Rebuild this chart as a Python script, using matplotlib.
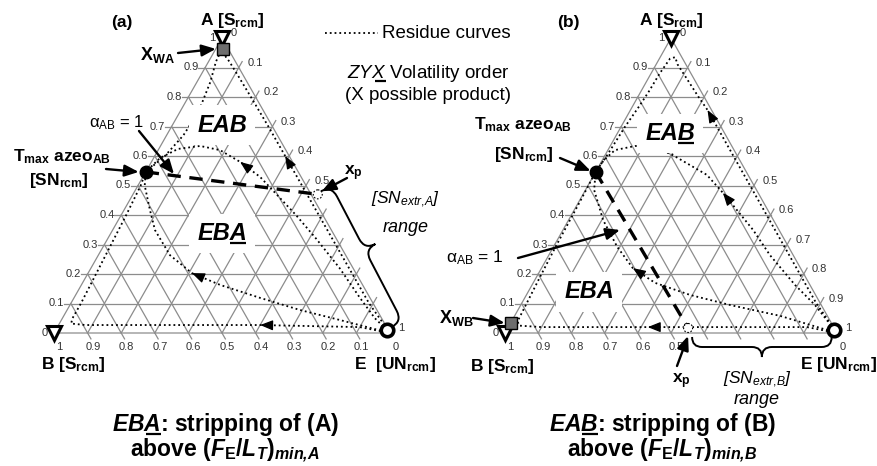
import numpy as np
import matplotlib.pyplot as plt
from matplotlib.path import Path
from matplotlib.patches import PathPatch, Circle

plt.rcParams['font.family'] = ['Liberation Sans', 'DejaVu Sans']
plt.rcParams['mathtext.fontset'] = 'custom'
plt.rcParams['mathtext.rm'] = 'Liberation Sans'
plt.rcParams['mathtext.it'] = 'Liberation Sans:italic'
plt.rcParams['mathtext.bf'] = 'Liberation Sans:bold'
plt.rcParams['mathtext.bfit'] = 'Liberation Sans:italic:bold'

# compositions are (x_A, x_E); x_B = 1 - x_A - x_E
tick_vals = [0.0, 0.1, 0.2, 0.3, 0.4, 0.5, 0.6, 0.7, 0.8, 0.9, 1.0]
tick_txt = ['0', '0.1', '0.2', '0.3', '0.4', '0.5', '0.6', '0.7', '0.8', '0.9', '1']

azeo_ab = (0.546, 0.0)
e_node = (0.01, 0.985)
xp_a = (0.47, 0.55)
xp_b = (0.017, 0.543)
xw_a = (0.963, 0.021)
xw_b = (0.034, 0.0)

# residue curves, from E (unstable node) to the azeotrope (stable node)
curve_a1 = [(0.0, 1.0), (0.1, 0.888), (0.2, 0.788), (0.3, 0.688), (0.4, 0.588), (0.5, 0.488),
            (0.6, 0.388), (0.7, 0.288), (0.8, 0.186), (0.87, 0.114), (0.92, 0.062), (0.945, 0.033),
            (0.945, 0.02), (0.92, 0.022), (0.85, 0.04), (0.75, 0.055), (0.67, 0.05), (0.6, 0.03),
            (0.546, 0.0)]
curve_a2 = [(0.0, 1.0), (0.05, 0.93), (0.12, 0.85), (0.22, 0.74), (0.32, 0.62), (0.4, 0.52),
            (0.468, 0.43), (0.529, 0.349), (0.58, 0.264), (0.62, 0.184), (0.634, 0.118),
            (0.624, 0.057), (0.593, 0.019), (0.546, 0.0)]
curve_a3 = [(0.0, 1.0), (0.02, 0.9), (0.027, 0.6), (0.027, 0.3), (0.027, 0.08), (0.032, 0.035),
            (0.05, 0.03), (0.1, 0.03), (0.2, 0.025), (0.3, 0.02), (0.4, 0.015), (0.5, 0.008),
            (0.546, 0.0)]
curve_a4 = [(0.0, 1.0), (0.044, 0.829), (0.078, 0.693), (0.119, 0.554), (0.163, 0.413),
            (0.203, 0.309), (0.264, 0.213), (0.349, 0.126), (0.417, 0.077), (0.5, 0.02),
            (0.546, 0.0)]

curve_b1 = [(0.0, 1.0), (0.1, 0.888), (0.2, 0.788), (0.3, 0.688), (0.4, 0.588), (0.5, 0.488),
            (0.6, 0.388), (0.7, 0.288), (0.756, 0.232), (0.8, 0.183), (0.87, 0.108), (0.91, 0.065),
            (0.935, 0.045), (0.93, 0.032), (0.88, 0.026), (0.82, 0.024), (0.77, 0.02),
            (0.7, 0.012), (0.6, 0.006), (0.546, 0.0)]
curve_b2 = [(0.0, 1.0), (0.095, 0.886), (0.163, 0.792), (0.264, 0.666), (0.349, 0.573),
            (0.475, 0.419), (0.536, 0.34), (0.603, 0.204), (0.63, 0.137), (0.634, 0.075),
            (0.62, 0.021), (0.586, 0.005), (0.546, 0.0)]
curve_b3 = [(0.0, 1.0), (0.058, 0.8), (0.095, 0.63), (0.129, 0.493), (0.17, 0.367),
            (0.22, 0.275), (0.292, 0.192), (0.383, 0.104), (0.485, 0.026), (0.546, 0.0)]
curve_b4 = [(0.0, 1.0), (0.02, 0.9), (0.02, 0.42), (0.02, 0.1), (0.025, 0.03), (0.04, 0.018),
            (0.1, 0.015), (0.2, 0.01), (0.3, 0.006), (0.45, 0.003), (0.546, 0.0)]

# arrow heads: (curve, index of the point the head sits on)
arrows_a = [(curve_a1, 6), (curve_a2, 8), (curve_a3, 2), (curve_a4, 5)]
arrows_b = [(curve_b1, 8), (curve_b2, 5), (curve_b3, 5), (curve_b4, 2)]

# triangle placement in the picture (pixels)
tri_a = {'B': (54, 333), 'E': (390, 333), 'A': (222, 38)}
tri_b = {'B': (505, 333), 'E': (837, 333), 'A': (671, 38)}

GRID = '#8c8c8c'
TICK = '#333333'


def tern(tri, xa, xe):
    xa = np.asarray(xa, float)
    xe = np.asarray(xe, float)
    xb = 1 - xa - xe
    x = xb * tri['B'][0] + xe * tri['E'][0] + xa * tri['A'][0]
    y = xb * tri['B'][1] + xe * tri['E'][1] + xa * tri['A'][1]
    return x, y


def seg(ax, tri, p, q, **kw):
    x, y = tern(tri, [p[0], q[0]], [p[1], q[1]])
    ax.plot(x, y, **kw)


def draw_grid(ax, tri, right_show, bottom_show):
    ext = 0.02
    kw = dict(color=GRID, lw=0.9, zorder=1)
    x, y = tern(tri, [0, 0, 1, 0], [0, 1, 0, 0])
    ax.plot(x, y, **kw)
    for v in tick_vals[1:-1]:
        seg(ax, tri, (v, -ext), (v, 1 - v), **kw)            # constant A
        seg(ax, tri, (0, v), (1 - v + ext, v), **kw)         # constant E
        seg(ax, tri, (1 - v, 0), (-ext, 1 - v + ext), **kw)  # constant B
    for v, s in zip(tick_vals, tick_txt):
        x, y = tern(tri, v, -0.02)
        ax.text(x, y, s, fontsize=8, color=TICK, ha='right', va='center')
        if s in right_show:
            x, y = tern(tri, 1 - v + 0.02, v)
            ax.text(x + 5, y + 1, s, fontsize=8, color=TICK, ha='left', va='center')
        if s in bottom_show:
            x, y = tern(tri, -0.02, 1 - v + 0.02)
            ax.text(x + 2, y + 8, s, fontsize=8, color=TICK, ha='center', va='center')


def draw_curves(ax, tri, curves, arrows):
    for c in curves:
        p = np.array(c)
        x, y = tern(tri, p[:, 0], p[:, 1])
        ax.plot(x, y, ls=':', color='k', lw=1.3, zorder=2)
    for c, i in arrows:
        x1, y1 = tern(tri, c[i][0], c[i][1])
        x0, y0 = tern(tri, c[i - 1][0], c[i - 1][1])
        d = np.array([x1 - x0, y1 - y0])
        d = d / np.hypot(*d)
        ax.annotate('', xy=(x1, y1), xytext=(x1 - 9 * d[0], y1 - 9 * d[1]),
                    arrowprops=dict(arrowstyle='-|>,head_length=0.55,head_width=0.22',
                                    color='k', lw=0.9, mutation_scale=14,
                                    shrinkA=0, shrinkB=0), zorder=3)


def brace(ax, p1, p2, depth, frac=0.5, lw=1.4):
    p1 = np.array(p1, float)
    p2 = np.array(p2, float)
    d = p2 - p1
    L = np.hypot(*d)
    u = d / L
    n = np.array([-u[1], u[0]])
    h = depth / 2.0
    r = abs(h)
    m = frac * L
    loc = [(0, 0), (0, h), (r, h), (m - r, h), (m, h), (m, 2 * h), (m, h), (m + r, h),
           (L - r, h), (L, h), (L, 0)]
    codes = [Path.MOVETO, Path.CURVE3, Path.CURVE3, Path.LINETO, Path.CURVE3, Path.CURVE3,
             Path.CURVE3, Path.CURVE3, Path.LINETO, Path.CURVE3, Path.CURVE3]
    verts = [p1 + s * u + t * n for s, t in loc]
    ax.add_patch(PathPatch(Path(verts, codes), fc='none', ec='k', lw=lw, zorder=3))


def ul_text(ax, x, y, s, pre, upto, **kw):
    r = ax.figure.canvas.get_renderer()

    def w(txt):
        t = ax.text(0, 0, txt, **kw)
        ww = t.get_window_extent(r).width
        t.remove()
        return ww

    left = x - w(s) / 2
    ax.text(left, y, s, ha='left', va='baseline', **kw)
    x0 = left + (w(pre) if pre else 0)
    x1 = left + w(upto)
    ax.plot([x0 + 0.5, x1 - 0.5], [y + 2.5, y + 2.5], color='k', lw=1.6,
            solid_capstyle='butt', zorder=6)


def arrow(ax, tail, tip, lw=1.7):
    ax.annotate('', xy=tip, xytext=tail,
                arrowprops=dict(arrowstyle='-|>,head_length=0.6,head_width=0.25',
                                color='k', lw=lw, mutation_scale=14, shrinkA=0, shrinkB=0),
                zorder=5)


def nodes(ax, tri, xp, xw):
    x, y = tern(tri, [azeo_ab[0], xp[0]], [azeo_ab[1], xp[1]])
    ax.plot(x, y, ls=(0, (4, 2.6)), lw=2.4, color='k', zorder=3)
    ax.add_patch(Circle(tern(tri, *xp), 4.5, fc='white', ec='k', lw=0.8,
                        ls=(0, (1.5, 1.5)), zorder=4))
    ax.plot(*tern(tri, *azeo_ab), 'o', ms=9, color='k', zorder=5)
    ax.plot(*tern(tri, *e_node), 'o', ms=9, mfc='white', mec='k', mew=2.6, zorder=5)
    ax.plot(*tern(tri, 1, 0), 'v', ms=10, mfc='white', mec='k', mew=2.2, zorder=5)
    ax.plot(*tern(tri, 0, 0), 'v', ms=10, mfc='white', mec='k', mew=2.2, zorder=5)
    ax.plot(*tern(tri, *xw), 's', ms=9, mfc='#6e6e6e', mec='k', mew=1, zorder=6)


fig = plt.figure(figsize=(8.78, 4.66), dpi=100)
ax = fig.add_axes([0, 0, 1, 1])
ax.set_xlim(0, 878)
ax.set_ylim(466, 0)
ax.axis('off')

draw_grid(ax, tri_a, ['0', '0.1', '0.2', '0.3', '0.4', '0.5', '1'], tick_txt)
draw_grid(ax, tri_b, tick_txt, ['1', '0.9', '0.8', '0.7', '0.6', '0.5', '0'])
draw_curves(ax, tri_a, [curve_a1, curve_a2, curve_a3, curve_a4], arrows_a)
draw_curves(ax, tri_b, [curve_b1, curve_b2, curve_b3, curve_b4], arrows_b)
nodes(ax, tri_a, xp_a, xw_a)
nodes(ax, tri_b, xp_b, xw_b)

B = dict(fontweight='bold', ha='center', va='center', zorder=6)
region = dict(fontsize=17, fontweight='bold', fontstyle='italic', zorder=6,
              bbox=dict(boxstyle='square,pad=0.35', fc='white', ec='none'))

# ---- panel (a)
ax.text(122, 22, '(a)', fontsize=12.5, **B)
ax.text(232, 20, r'A [S$_{\mathbf{rcm}}$]', fontsize=12.5, **B)
ax.text(73, 364, r'B [S$_{\mathbf{rcm}}$]', fontsize=12.5, **B)
ax.text(395, 364, r'E  [UN$_{\mathbf{rcm}}$]', fontsize=12.5, **B)
ax.text(157, 55, r'X$_{\mathbf{WA}}$', fontsize=13, **B)
xw_px = tern(tri_a, *xw_a)
arrow(ax, (178, 53), (xw_px[0] - 7, xw_px[1]))
ax.text(117, 123, r'α$_{\mathrm{AB}}$ = 1', fontsize=12, ha='center', va='center', zorder=6)
arrow(ax, (139, 131), (174, 174))
ax.text(62, 157, r'T$_{\mathbf{max}}$ azeo$_{\mathbf{AB}}$', fontsize=12.5, **B)
ax.text(59, 181, r'[SN$_{\mathbf{rcm}}$]', fontsize=12.5, **B)
az = tern(tri_a, *azeo_ab)
arrow(ax, (106, 169), (az[0] - 7, az[1]))
ax.text(222, 125, 'EAB', ha='center', va='center', **region)
ul_text(ax, 222, 240, 'EBA', 'EB', 'EBA', **region)
ax.text(353, 173, r'x$_{\mathbf{p}}$', fontsize=12.5, **B)
xpp = tern(tri_a, *xp_a)
arrow(ax, (347, 178), (xpp[0] + 4, xpp[1] - 3))
ax.text(405, 200, r'[SN$_{\mathit{extr{,}A}}$]', fontsize=12.5, fontstyle='italic',
        ha='center', va='center')
ax.text(406, 228, 'range', fontsize=13, fontstyle='italic', ha='center', va='center')
ep = tern(tri_a, *e_node)
brace(ax, (xpp[0] + 3, xpp[1] - 3), (ep[0] + 5, ep[1] - 3), -24, frac=0.47)

# ---- legend
ax.plot([325, 378], [33, 33], ls=':', color='k', lw=1.3)
ax.text(382, 33, 'Residue curves', fontsize=13.5, ha='left', va='center')
ul_text(ax, 428, 78, r'$\mathit{ZYX}$ Volatility order', r'$\mathit{ZY}$', r'$\mathit{ZYX}$',
        fontsize=13.5)
ax.text(428, 95, '(X possible product)', fontsize=13.5, ha='center', va='center')

# ---- panel (b)
ax.text(568, 23, '(b)', fontsize=12.5, **B)
ax.text(671, 20, r'A [S$_{\mathbf{rcm}}$]', fontsize=12.5, **B)
ax.text(502, 366, r'B [S$_{\mathbf{rcm}}$]', fontsize=12.5, **B)
ax.text(839, 364, r'E [UN$_{\mathbf{rcm}}$]', fontsize=12.5, **B)
ax.text(523, 125, r'T$_{\mathbf{max}}$ azeo$_{\mathbf{AB}}$', fontsize=12.5, **B)
ax.text(524, 155, r'[SN$_{\mathbf{rcm}}$]', fontsize=12.5, **B)
az = tern(tri_b, *azeo_ab)
arrow(ax, (560, 158), (az[0] - 5, az[1] - 1))
ul_text(ax, 670, 140, 'EAB', 'EA', 'EAB', **region)
ax.text(475, 258, r'α$_{\mathrm{AB}}$ = 1', fontsize=12.5, ha='center', va='center', zorder=6)
arrow(ax, (518, 258), (620, 230))
ax.text(589, 292, 'EBA', ha='center', va='center', **region)
ax.text(456, 318, r'X$_{\mathbf{WB}}$', fontsize=13, **B)
xw_px = tern(tri_b, *xw_b)
arrow(ax, (473, 318), (xw_px[0] - 6, xw_px[1]))
ax.text(681, 381, r'x$_{\mathbf{p}}$', fontsize=12.5, **B)
xpp = tern(tri_b, *xp_b)
arrow(ax, (677, 366), (xpp[0], xpp[1] + 8))
ep = tern(tri_b, *e_node)
brace(ax, (xpp[0] + 4, 337), (ep[0] - 2, 337), 20, frac=0.5)
ax.text(757, 380, r'[SN$_{\mathit{extr{,}B}}$]', fontsize=12.5, fontstyle='italic',
        ha='center', va='center')
ax.text(757, 399, 'range', fontsize=13, fontstyle='italic', ha='center', va='center')

# ---- captions
cap = dict(fontsize=16.5, fontweight='bold')
ul_text(ax, 226, 431, r'$\mathbfit{EBA}$: stripping of (A)', r'$\mathbfit{EB}$',
        r'$\mathbfit{EBA}$', **cap)
ax.text(225, 451, r'above ($\mathbfit{F}_{\mathbf{E}}$/$\mathbfit{L}_{\mathbfit{T}}$)$_{\mathbfit{min{,}A}}$',
        ha='center', va='center', **cap)
ul_text(ax, 663, 431, r'$\mathbfit{EAB}$: stripping of (B)', r'$\mathbfit{EA}$',
        r'$\mathbfit{EAB}$', **cap)
ax.text(662, 451, r'above ($\mathbfit{F}_{\mathbf{E}}$/$\mathbfit{L}_{\mathbfit{T}}$)$_{\mathbfit{min{,}B}}$',
        ha='center', va='center', **cap)

fig.savefig('out.png', dpi=100)
